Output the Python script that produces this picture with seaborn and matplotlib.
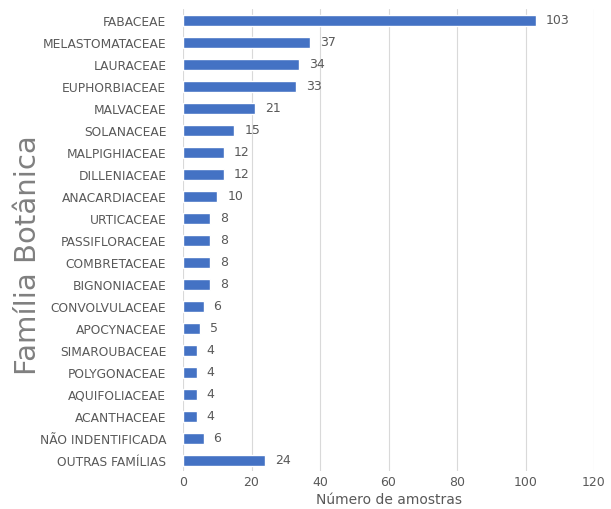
import matplotlib
matplotlib.use("Agg")
import matplotlib.pyplot as plt
import seaborn as sns
import pandas as pd

families = ["FABACEAE", "MELASTOMATACEAE", "LAURACEAE", "EUPHORBIACEAE", "MALVACEAE",
            "SOLANACEAE", "MALPIGHIACEAE", "DILLENIACEAE", "ANACARDIACEAE", "URTICACEAE",
            "PASSIFLORACEAE", "COMBRETACEAE", "BIGNONIACEAE", "CONVOLVULACEAE", "APOCYNACEAE",
            "SIMAROUBACEAE", "POLYGONACEAE", "AQUIFOLIACEAE", "ACANTHACEAE",
            "NÃO INDENTIFICADA", "OUTRAS FAMÍLIAS"]
counts = [103, 37, 34, 33, 21, 15, 12, 12, 10, 8, 8, 8, 8, 6, 5, 4, 4, 4, 4, 6, 24]
xticks = [0, 20, 40, 60, 80, 100, 120]

df = pd.DataFrame({"familia": families, "n": counts})

sns.set_theme(style="white")
plt.rcParams['font.family'] = ['DejaVu Sans']

fig = plt.figure(figsize=(6.11, 5.10), dpi=100)
ax = fig.add_axes([183 / 611, 1 - 472 / 510, 411 / 611, 462 / 510])

sns.barplot(data=df, x="n", y="familia", orient="h", color="#4472C4",
            saturation=1, width=0.5, ax=ax, zorder=3)

gray = "#595959"
for i, v in enumerate(counts):
    ax.text(v + 2.9, i, str(v), va="center", ha="left", fontsize=9, color=gray)

ax.set_xlim(0, 120)
ax.set_xticks(xticks)
ax.set_xticklabels([str(t) for t in xticks], fontsize=9, color=gray)
ax.tick_params(axis="y", labelsize=8.8, labelcolor=gray, length=0, pad=12)
ax.tick_params(axis="x", length=0, pad=3)
ax.grid(axis="x", color="#D9D9D9", linewidth=0.8, zorder=0)
for s in ax.spines.values():
    s.set_visible(False)
ax.set_ylabel("")
ax.set_xlabel("")

fig.text(389 / 611, 1 - 500 / 510, "Número de amostras", ha="center", va="center",
         fontsize=10, color=gray)

fig.text(28 / 611, 1 - 255 / 510, "Família Botânica", rotation=90, ha="center",
         va="center", fontsize=21, color="#808080")

fig.savefig("out.png", dpi=100)
